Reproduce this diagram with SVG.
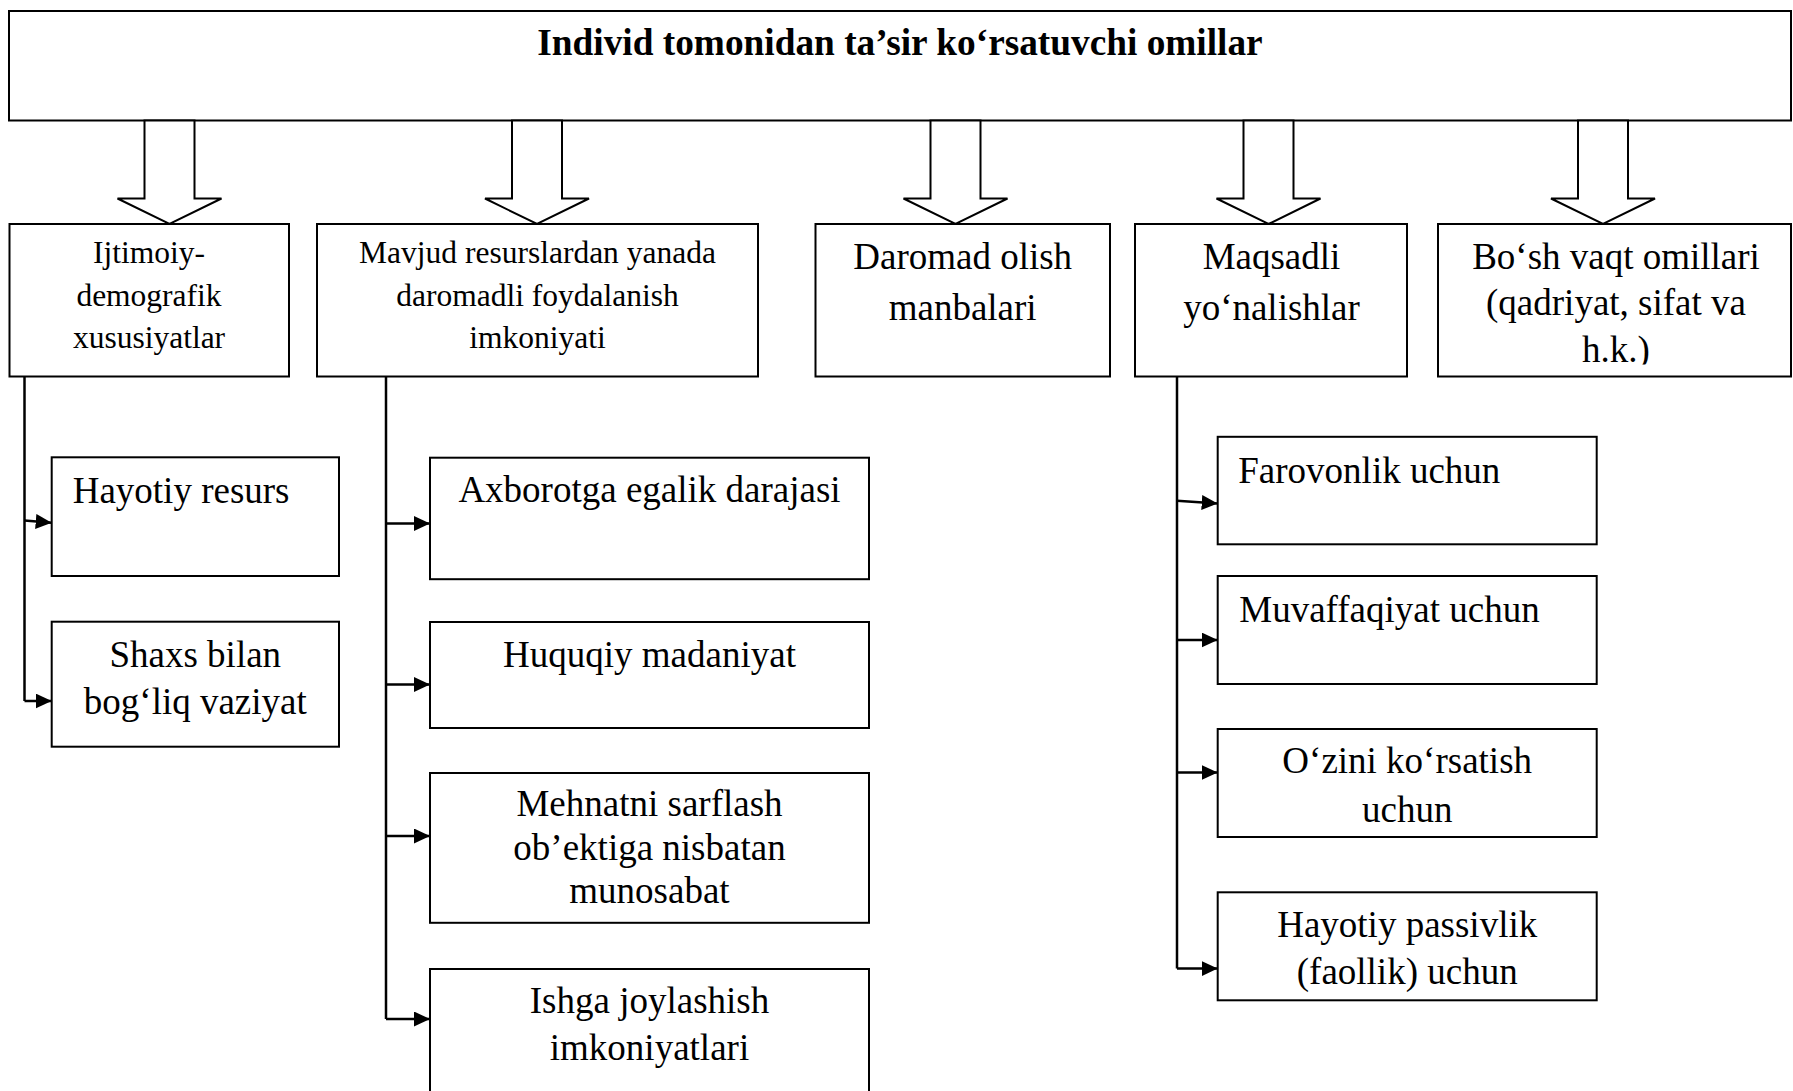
<svg xmlns="http://www.w3.org/2000/svg" width="1793" height="1091" viewBox="0 0 1793 1091">
  <style>
    .box { fill: #fff; stroke: #000; stroke-width: 2; }
    .hollow { fill: #fff; stroke: #000; stroke-width: 2; stroke-linejoin: miter; }
    .wire { fill: none; stroke: #000; stroke-width: 2.5; }
    text { font-family: "Liberation Serif", "Times New Roman", serif; fill: #000; }
    .title { font-size: 37.3px; font-weight: bold; text-anchor: middle; }
    .big { font-size: 37px; }
    .mid { text-anchor: middle; }
    .small { font-size: 31.5px; text-anchor: middle; }
  </style>
  <defs>
    <marker id="head" markerUnits="userSpaceOnUse" markerWidth="16" markerHeight="15" refX="16" refY="7.5" orient="auto">
      <path d="M0,0 L16,7.5 L0,15 z" fill="#000"/>
    </marker>
    <clipPath id="clip-leisure">
      <rect x="1438" y="224" width="355" height="140.5"/>
    </clipPath>
  </defs>

  <rect width="1793" height="1091" fill="#fff"/>

  <!-- root -->
  <g id="root">
    <rect class="box" x="9" y="11" width="1782" height="109.5"/>
    <text class="title" x="900" y="55">Individ tomonidan ta’sir ko‘rsatuvchi omillar</text>
  </g>

  <!-- connectors -->
  <g id="connectors">
    <!-- hollow block arrows from the root -->
    <polygon class="hollow" points="144.5,120.5 194.5,120.5 194.5,198.5 221.5,198.5 169.5,224 117.5,198.5 144.5,198.5"/>
    <polygon class="hollow" points="512,120.5 562,120.5 562,198.5 589,198.5 537,224 485,198.5 512,198.5"/>
    <polygon class="hollow" points="930.5,120.5 980.5,120.5 980.5,198.5 1007.5,198.5 955.5,224 903.5,198.5 930.5,198.5"/>
    <polygon class="hollow" points="1243.5,120.5 1293.5,120.5 1293.5,198.5 1320.5,198.5 1268.5,224 1216.5,198.5 1243.5,198.5"/>
    <polygon class="hollow" points="1578,120.5 1628,120.5 1628,198.5 1655,198.5 1603,224 1551,198.5 1578,198.5"/>

    <!-- branch from Ijtimoiy-demografik -->
    <path class="wire" d="M24.5,376.5 V701"/>
    <path class="wire" d="M24.5,520.5 L51.7,522.8" marker-end="url(#head)"/>
    <path class="wire" d="M24.5,701 H51.7" marker-end="url(#head)"/>

    <!-- branch from Mavjud resurslardan -->
    <path class="wire" d="M386,376.5 V1019"/>
    <path class="wire" d="M386,523.5 H430" marker-end="url(#head)"/>
    <path class="wire" d="M386,684.5 H430" marker-end="url(#head)"/>
    <path class="wire" d="M386,836 H430" marker-end="url(#head)"/>
    <path class="wire" d="M386,1019 H430" marker-end="url(#head)"/>

    <!-- branch from Maqsadli yo'nalishlar -->
    <path class="wire" d="M1177,376.5 V968.6"/>
    <path class="wire" d="M1177,500.8 L1217.7,503.6" marker-end="url(#head)"/>
    <path class="wire" d="M1177,640 H1217.7" marker-end="url(#head)"/>
    <path class="wire" d="M1177,772.5 H1217.7" marker-end="url(#head)"/>
    <path class="wire" d="M1177,968.6 H1217.7" marker-end="url(#head)"/>
  </g>

  <!-- second level -->
  <g id="socio-demographic">
    <rect class="box" x="9.5" y="224" width="279.5" height="152.5"/>
    <text class="small" x="149" y="263">Ijtimoiy-</text>
    <text class="small" x="149" y="306">demografik</text>
    <text class="small" x="149" y="348">xususiyatlar</text>
  </g>

  <g id="resources">
    <rect class="box" x="317" y="224" width="441" height="152.5"/>
    <text class="small" x="537.5" y="263">Mavjud resurslardan yanada</text>
    <text class="small" x="537.5" y="306">daromadli foydalanish</text>
    <text class="small" x="537.5" y="348">imkoniyati</text>
  </g>

  <g id="income">
    <rect class="box" x="815.5" y="224" width="294.5" height="152.5"/>
    <text class="big mid" x="962.7" y="268.5">Daromad olish</text>
    <text class="big mid" x="962.7" y="319.5">manbalari</text>
  </g>

  <g id="goals">
    <rect class="box" x="1135" y="224" width="272" height="152.5"/>
    <text class="big mid" x="1271.5" y="268.5">Maqsadli</text>
    <text class="big mid" x="1271.5" y="319.5">yo‘nalishlar</text>
  </g>

  <g id="leisure">
    <rect class="box" x="1438" y="224" width="353" height="152.5"/>
    <g clip-path="url(#clip-leisure)">
      <text class="big mid" x="1616" y="268.5">Bo‘sh vaqt omillari</text>
      <text class="big mid" x="1616" y="315">(qadriyat, sifat va</text>
      <text class="big mid" x="1616" y="362">h.k.)</text>
    </g>
  </g>

  <!-- third level: socio-demographic -->
  <g id="life-resource">
    <rect class="box" x="51.7" y="457.3" width="287.3" height="118.7"/>
    <text class="big" x="72.7" y="503">Hayotiy resurs</text>
  </g>

  <g id="personal-situation">
    <rect class="box" x="51.7" y="621.7" width="287.3" height="125"/>
    <text class="big mid" x="195.3" y="666.7">Shaxs bilan</text>
    <text class="big mid" x="195.3" y="714">bog‘liq vaziyat</text>
  </g>

  <!-- third level: resources -->
  <g id="information">
    <rect class="box" x="430" y="457.7" width="439" height="121.5"/>
    <text class="big mid" x="649.5" y="502">Axborotga egalik darajasi</text>
  </g>

  <g id="legal-culture">
    <rect class="box" x="430" y="622" width="439" height="106"/>
    <text class="big mid" x="649.5" y="667">Huquqiy madaniyat</text>
  </g>

  <g id="labour-attitude">
    <rect class="box" x="430" y="773" width="439" height="149.8"/>
    <text class="big mid" x="649.5" y="815.8">Mehnatni sarflash</text>
    <text class="big mid" x="649.5" y="860">ob’ektiga nisbatan</text>
    <text class="big mid" x="649.5" y="902.7">munosabat</text>
  </g>

  <g id="employment">
    <rect class="box" x="430" y="969" width="439" height="140"/>
    <text class="big mid" x="649.5" y="1012.6">Ishga joylashish</text>
    <text class="big mid" x="649.5" y="1059.7">imkoniyatlari</text>
  </g>

  <!-- third level: goals -->
  <g id="welfare">
    <rect class="box" x="1217.7" y="436.8" width="379" height="107.5"/>
    <text class="big" x="1238.3" y="483">Farovonlik uchun</text>
  </g>

  <g id="success">
    <rect class="box" x="1217.7" y="576" width="379" height="108"/>
    <text class="big" x="1239.3" y="622.2">Muvaffaqiyat uchun</text>
  </g>

  <g id="self-expression">
    <rect class="box" x="1217.7" y="729" width="379" height="108"/>
    <text class="big mid" x="1407.2" y="772.5">O‘zini ko‘rsatish</text>
    <text class="big mid" x="1407.2" y="822.3">uchun</text>
  </g>

  <g id="passivity">
    <rect class="box" x="1217.7" y="892.3" width="379" height="108"/>
    <text class="big mid" x="1407.2" y="936.6">Hayotiy passivlik</text>
    <text class="big mid" x="1407.2" y="984.4">(faollik) uchun</text>
  </g>
</svg>
